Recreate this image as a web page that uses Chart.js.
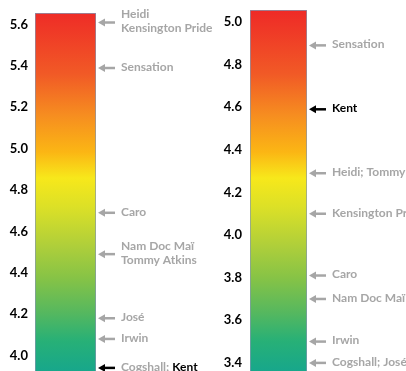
<!DOCTYPE html>
<html>
<head>
<meta charset="utf-8">
<script src="https://cdn.jsdelivr.net/npm/chart.js@4"></script>
<style>
  html, body { margin: 0; padding: 0; background: #fff; overflow: hidden; }
  body { width: 406px; height: 371px; position: relative; }
  .panel { position: absolute; top: 0; height: 371px; }
  #leftPanel { left: 0; width: 220px; }
  #rightPanel { left: 200px; width: 206px; }
</style>
</head>
<body>
<div class="panel" id="leftPanel"><canvas id="leftChart"></canvas></div>
<div class="panel" id="rightPanel"><canvas id="rightChart"></canvas></div>
<script>
// left scale
const leftTicks = [4.0, 4.2, 4.4, 4.6, 4.8, 5.0, 5.2, 5.4, 5.6];
const leftRange = [3.925, 5.656];
const leftValues = [5.61, 5.39, 4.69, 4.49, 4.18, 4.08, 3.94];
const leftNames = [
    ['Heidi', 'Kensington Pride'],
    ['Sensation'],
    ['Caro'],
    ['Nam Doc Maï', 'Tommy Atkins'],
    ['José'],
    ['Irwin'],
    ['Cogshall; Kent']
];

// right scale
const rightTicks = [3.4, 3.6, 3.8, 4.0, 4.2, 4.4, 4.6, 4.8, 5.0];
const rightRange = [3.362, 5.056];
const rightValues = [4.89, 4.59, 4.29, 4.10, 3.81, 3.70, 3.50, 3.40];
const rightNames = [
    ['Sensation'],
    ['Kent'],
    ['Heidi; Tommy Atkins'],
    ['Kensington Pride'],
    ['Caro'],
    ['Nam Doc Maï'],
    ['Irwin'],
    ['Cogshall; José']
];

const highlight = 'Kent';

const GRAY = '#a6a6a6';

function barGradient(context) {
    const chart = context.chart;
    const area = chart.chartArea;
    if (!area) {
        return '#f7941d';
    }
    const g = chart.ctx.createLinearGradient(0, 0, 0, 371);
    g.addColorStop(0.0, '#ee2227');
    g.addColorStop(0.2, '#f15a26');
    g.addColorStop(0.31, '#f68d20');
    g.addColorStop(0.41, '#fbb614');
    g.addColorStop(0.48, '#f7e81b');
    g.addColorStop(0.56, '#dbe027');
    g.addColorStop(0.66, '#b0cf3a');
    g.addColorStop(0.75, '#86c346');
    g.addColorStop(0.84, '#57b85e');
    g.addColorStop(0.92, '#27b077');
    g.addColorStop(1.0, '#17a78b');
    return g;
}

// arrows + labels next to the bar
const arrowLabels = {
    id: 'arrowLabels',
    afterDatasetsDraw(chart, args, opts) {
        const ctx = chart.ctx;
        const y = chart.scales.y;
        const right = chart.chartArea.right;
        ctx.save();
        ctx.font = 'bold 12px Lato';
        ctx.textBaseline = 'middle';
        opts.values.forEach((v, i) => {
            const py = y.getPixelForValue(v);
            const lines = opts.names[i];
            const hot = lines.join(' ').indexOf(highlight) >= 0;
            const col = hot ? '#000' : GRAY;
            // arrow
            ctx.strokeStyle = col;
            ctx.fillStyle = col;
            ctx.lineWidth = 2.5;
            ctx.beginPath();
            ctx.moveTo(right + 7, py);
            ctx.lineTo(right + 19, py);
            ctx.stroke();
            ctx.beginPath();
            ctx.moveTo(right + 2, py);
            ctx.lineTo(right + 9, py - 4);
            ctx.lineTo(right + 9, py + 4);
            ctx.closePath();
            ctx.fill();
            // text
            const lh = 14;
            let ty = py - (lines.length - 1) * lh / 2 - 1;
            lines.forEach(line => {
                let tx = right + 25;
                const parts = line.split('; ');
                parts.forEach((p, k) => {
                    const txt = k < parts.length - 1 ? p + '; ' : p;
                    ctx.fillStyle = p === highlight ? '#000' : GRAY;
                    ctx.fillText(txt, tx, ty);
                    tx += ctx.measureText(txt).width;
                });
                ty += lh;
            });
        });
        ctx.restore();
    }
};

function makeChart(id, ticks, range, values, names, axisWidth, padTop, padRight, tickPad) {
    const ctx = document.getElementById(id).getContext('2d');
    return new Chart(ctx, {
        type: 'bar',
        data: {
            labels: [''],
            datasets: [{
                data: [range],
                backgroundColor: barGradient,
                borderColor: '#8496b0',
                borderWidth: 1,
                borderSkipped: 'start',
                barPercentage: 1,
                categoryPercentage: 1
            }]
        },
        options: {
            responsive: true,
            maintainAspectRatio: false,
            animation: false,
            layout: { padding: { top: padTop, right: padRight, bottom: 0, left: 0 } },
            plugins: {
                legend: { display: false },
                tooltip: { enabled: false },
                arrowLabels: { values: values, names: names }
            },
            scales: {
                x: { display: false },
                y: {
                    min: range[0],
                    max: range[1],
                    grid: { display: false, drawTicks: false },
                    border: { display: false },
                    afterBuildTicks: scale => {
                        scale.ticks = ticks.map(v => ({ value: v }));
                    },
                    afterFit: scale => {
                        scale.width = axisWidth;
                        scale.paddingTop = 0;
                        scale.paddingBottom = 0;
                    },
                    ticks: {
                        padding: tickPad,
                        color: '#000',
                        font: { family: 'Lato', weight: 'bold', size: 13 },
                        callback: v => Number(v).toFixed(1)
                    }
                }
            }
        },
        plugins: [arrowLabels]
    });
}

makeChart('leftChart', leftTicks, leftRange, leftValues, leftNames, 35, 13, 124, 7);
makeChart('rightChart', rightTicks, rightRange, rightValues, rightNames, 50, 10, 99, 8);
</script>
</body>
</html>
